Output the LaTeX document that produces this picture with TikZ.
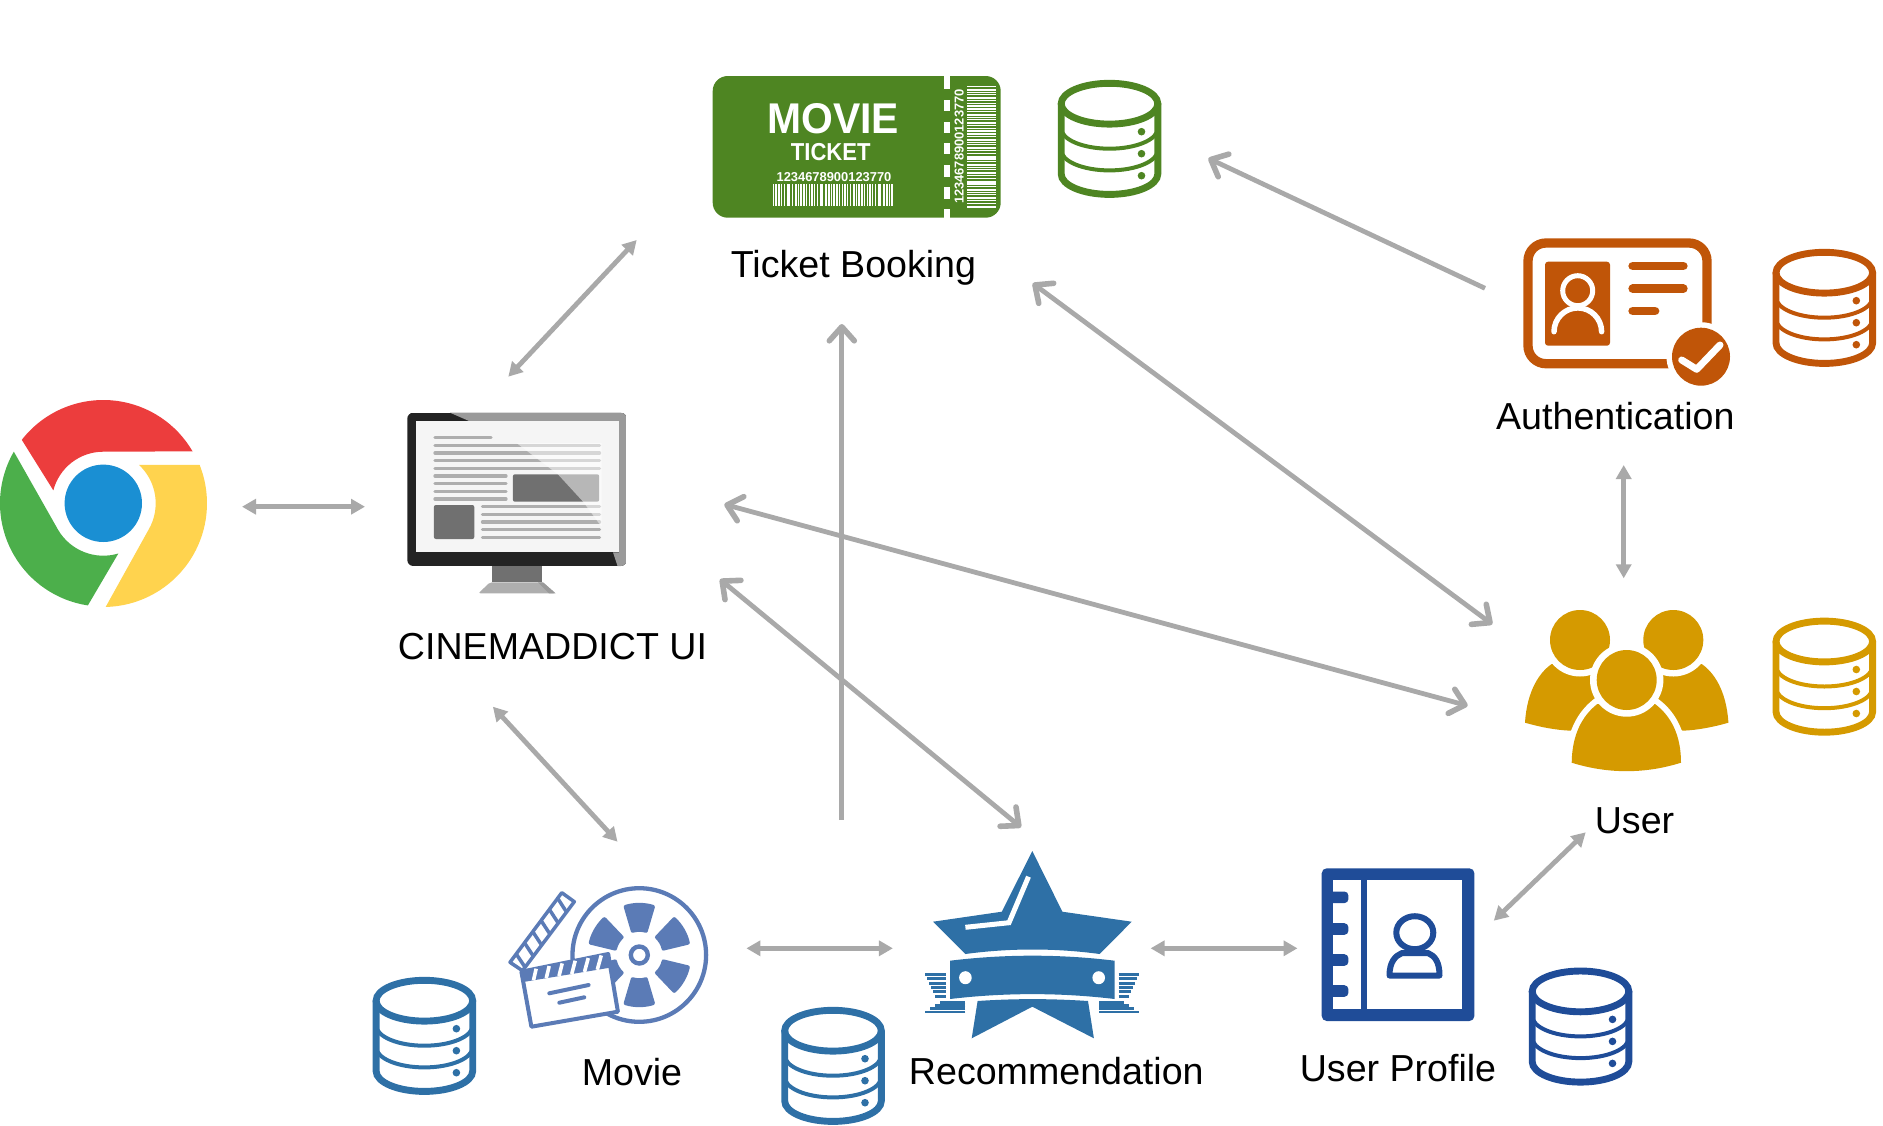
\documentclass[tikz,border=0pt]{standalone}
\usepackage{fontspec}
\setmainfont{Liberation Sans}
\usepackage{xcolor}
\usepackage{tikz}
\usetikzlibrary{arrows.meta,calc}
\definecolor{arrgray}{HTML}{A9A9A9}
\definecolor{tktgreen}{HTML}{4E8522}
\definecolor{authorange}{HTML}{C05508}
\definecolor{usergold}{HTML}{D59A00}
\definecolor{recblue}{HTML}{2E70A6}
\definecolor{profblue}{HTML}{1F4C98}
\definecolor{reelblue}{HTML}{5B7BB6}
\definecolor{crred}{HTML}{EC3D3D}
\definecolor{cryellow}{HTML}{FFD34E}
\definecolor{crgreen}{HTML}{4CAF4B}
\definecolor{crblue}{HTML}{1A8FD3}
\definecolor{monblack}{HTML}{232323}
\definecolor{mongray}{HTML}{9A9A9A}
\definecolor{mondark}{HTML}{707070}
\definecolor{monline}{HTML}{AEAEAE}
\tikzset{
  lbl/.style={font=\fontsize{37.6}{40}\selectfont,anchor=base,inner sep=0pt,text=black},
  tkt/.style={text=white,inner sep=0pt,font=\bfseries},
  ar/.style={{Triangle[length=14pt,width=15pt]}-{Triangle[length=14pt,width=15pt]},draw=arrgray,line width=4.8pt},
  aro/.style={{Straight Barb[length=14pt,width=25pt,round,line width=5.6pt]}-{Straight Barb[length=14pt,width=25pt,round,line width=5.6pt]},draw=arrgray,line width=4.8pt},
  arone/.style={-{Straight Barb[length=14pt,width=25pt,round,line width=5.6pt]},draw=arrgray,line width=4.8pt},
  scrline/.style={monline,line width=3.3pt,line cap=round},
  pics/dbstack/.style={code={
    \draw[#1,line width=6.9pt] (0,-35.3) ellipse [x radius=48.3,y radius=20.4];
    \draw[#1,line width=6.9pt] (-48.3,-35.3) -- (-48.3,35) arc [start angle=180,end angle=0,x radius=48.3,y radius=20.4] -- (48.3,-35.3);
    \draw[#1,line width=4pt] (-48.3,-10.7) arc [start angle=180,end angle=0,x radius=48.3,y radius=20.4];
    \draw[#1,line width=4pt] (-48.3,11) arc [start angle=180,end angle=0,x radius=48.3,y radius=20.4];
    \foreach \dy in {-7.3,14.7,36.7}
      \fill[#1] (32,\dy) circle [radius=3.8];
  }},
}
\begin{document}
\begin{tikzpicture}[x=1pt,y=-1pt]
  \useasboundingbox (0,0) rectangle (1883,1125);

  \begin{scope}[shift={(103.3,503.3)}]
    \fill[crred] (217.9:103.3) arc [start angle=217.9,end angle=329.8,radius=103.3] -- (270:51.6) arc [start angle=270,end angle=194.5,radius=51.6] -- cycle;
    \fill[cryellow] (313:52.4) -- (338.3:103.7) arc [start angle=338.3,end angle=448.7,radius=103.7] -- (30.3:52.4) arc [start angle=30.3,end angle=-47,radius=52.4] -- cycle;
    \fill[crgreen] (210:103.3) arc [start angle=210,end angle=98.6,radius=103.3] -- (73.3:52.4) arc [start angle=73.3,end angle=149.8,radius=52.4] -- cycle;
    \fill[crblue] (0,0) circle [radius=38.7];
  \end{scope}

  \fill[mondark] (492.2,560) rectangle (541.8,582.3);
  \fill[monline,rounded corners=2pt] (478.4,593.3) -- (490,582.3) -- (543,582.3) -- (555.5,593.3) -- cycle;
  \fill[mongray] (538,582.3) -- (543,582.3) -- (555.5,593.3) -- (549,593.3) -- cycle;
  \begin{scope}
    \clip[rounded corners=6pt] (407.3,412.7) rectangle (626.7,566);
    \fill[monblack] (407.3,412.7) rectangle (626.7,566);
    \fill[mongray] (450,412.7) -- (469,421) -- (619,421) -- (619,552.3) -- (613,552.3) -- (617.5,566) -- (626.7,566) -- (626.7,412.7) -- cycle;
  \end{scope}
  \fill[white!96!black] (415.5,421) rectangle (619,552.3);
  \draw[scrline] (435,437.7) -- (491,437.7);
  \foreach \ly in {445.7,453,460.7,468.3}
    \draw[scrline] (435,\ly) -- (599.5,\ly);
  \foreach \ly in {476,483.7,491.3,499}
    \draw[scrline] (435,\ly) -- (506,\ly);
  \foreach \ly in {506.7,514.3,522,529.7,537.3}
    \draw[scrline] (482.5,\ly) -- (599.5,\ly);
  \fill[mondark,rounded corners=2pt] (512.9,474.3) rectangle (599.2,501.7);
  \fill[mondark,rounded corners=2pt] (433.9,505) rectangle (474.3,539);
  \fill[white,opacity=.5] (516.5,443) -- (557.9,474.3) -- (583.1,501.7) -- (601.5,526.7) -- (601.5,443) -- cycle;

  \fill[tktgreen,rounded corners=15pt] (712.7,76) rectangle (1000.7,217.7);
  \foreach \dy/\dh in {76/12.7,100/11,121.7/11,143.3/11,165/11.7,187.3/12,209.3/8.4}
    \fill[white] (944,\dy) rectangle ++(6,\dh);
  \node[tkt,font=\bfseries\fontsize{43}{44}\selectfont,xscale=.95] (tktmovie) at (833.3,119) {MOVIE};
  \node[tkt,font=\bfseries\fontsize{24.5}{25}\selectfont,xscale=.9] (tktword) at (830.7,152) {TICKET};
  \node[tkt,font=\bfseries\fontsize{12.9}{14}\selectfont] (tktnum) at (834,177) {1234678900123770};
  \node[tkt,font=\bfseries\fontsize{12.9}{14}\selectfont,rotate=90] (tktnumv) at (959.3,146.5) {1234678900123770};
  \foreach \i in {0,...,43}{
    \fill[white] ({772.7+\i*2.76},184) rectangle ++({0.8+0.6*mod(\i*7,3)},21.7);
    \fill[white] (966.7,{86+\i*2.78}) rectangle ++(29.3,{0.8+0.6*mod(\i*5,3)});
  }

  \pic (dbticket) at (1109.5,139) {dbstack=tktgreen};
  \pic (dbauth) at (1824.3,308) {dbstack=authorange};
  \pic (dbuser) at (1824.3,676.8) {dbstack=usergold};
  \pic (dbmovie) at (424.4,1036) {dbstack=recblue};
  \pic (dbrec) at (833,1066) {dbstack=recblue};
  \pic (dbprof) at (1580.5,1026.7) {dbstack=profblue};

  \draw[authorange,line width=9.3pt,rounded corners=18pt] (1528,243) rectangle (1707,363.7);
  \fill[white] (1701,356.7) circle [radius=34.5];
  \fill[authorange] (1701,356.7) circle [radius=29];
  \draw[white,line width=7pt,line cap=round,line join=round] (1681.7,360) -- (1696.7,369.3) -- (1720,345);
  \fill[authorange,rounded corners=3pt] (1545,261.7) rectangle (1610,345.7);
  \draw[white,line width=5pt] (1577.7,290.7) circle [radius=15];
  \draw[white,line width=5.5pt,line cap=round] (1554,331.7) arc [start angle=180,end angle=360,radius=23.8];
  \draw[authorange,line width=8.7pt,line cap=round] (1632.7,266) -- (1683.3,266);
  \draw[authorange,line width=8.7pt,line cap=round] (1632.7,288.7) -- (1683.3,288.7);
  \draw[authorange,line width=8.7pt,line cap=round] (1632.7,311) -- (1655,311);

  \fill[usergold] (1525,722.7) .. controls (1527,690) and (1540,672) .. (1551.7,664) -- (1600,664) -- (1620,700) -- (1570.7,730.7) .. controls (1555,730) and (1540,727) .. cycle;
  \fill[usergold] (1728.4,722.7) .. controls (1726.4,690) and (1713.4,672) .. (1701.7,664) -- (1653.4,664) -- (1633.4,700) -- (1682.7,730.7) .. controls (1698.4,730) and (1713.4,727) .. cycle;
  \foreach \hx in {1580,1673.3}{
    \fill[white] (\hx,640) circle [radius=36.5];
    \fill[usergold] (\hx,640) circle [radius=30];
  }
  \path[fill=usergold,preaction={draw=white,line width=12pt}] (1571.7,762.7) .. controls (1572,735) and (1582,716) .. (1597.3,704) -- (1655,704) .. controls (1671,716) and (1681,735) .. (1681,762.7) .. controls (1645,774) and (1608,774) .. cycle;
  \fill[white] (1626.7,680) circle [radius=36.7];
  \fill[usergold] (1626.7,680) circle [radius=30];

  \draw[reelblue,line width=4.3pt] (639.3,955) circle [radius=66.8];
  \draw[reelblue,line width=4.4pt] (639.3,955) circle [radius=8.5];
  \begin{scope}[shift={(639.3,955)}]
    \foreach \a in {270,330,30,90,150,210}
      \fill[reelblue,rounded corners=2pt] ({\a-18}:52) arc [start angle={\a-18},end angle={\a+18},radius=52] -- ({\a+20}:23) arc [start angle={\a+20},end angle={\a-20},radius=23] -- cycle;
  \end{scope}
  \coordinate (armA) at (510,962.3);
  \coordinate (armB) at (561.8,892.7);
  \coordinate (armC) at (574.3,901.7);
  \coordinate (armD) at (522.5,970.7);
  \draw[reelblue,fill=white,line width=3.5pt,line join=round] (armA) -- (armB) -- (armC) -- (armD) -- cycle;
  \foreach \t in {.12,.28,.44,.6,.76,.92}
    \draw[reelblue,line width=3.5pt] ($(armA)!\t!(armB)$) -- ($(armD)!\t-.07!(armC)$);
  \coordinate (brdA) at (521.4,971.7);
  \coordinate (brdB) at (608.2,954);
  \coordinate (brdC) at (617.9,1011.7);
  \coordinate (brdD) at (531.4,1026.7);
  \coordinate (bndL) at (525,981.7);
  \coordinate (bndR) at (610,967.7);
  \draw[reelblue,fill=white,line width=4pt,line join=round] (brdA) -- (brdB) -- (brdC) -- (brdD) -- cycle;
  \fill[reelblue] (brdA) -- (brdB) -- (bndR) -- (bndL) -- cycle;
  \foreach \t in {.1,.25,.4,.55,.7,.85}
    \draw[white,line width=3.6pt] ($(bndL)!\t!(bndR)$) -- ($(brdA)!\t+.07!(brdB)$);
  \draw[reelblue,line width=4pt,line cap=round] (549.3,993.3) -- (588.6,985);
  \draw[reelblue,line width=4pt,line cap=round] (559.3,1002.7) -- (584.3,997.3);

  \fill[recblue] (1032.3,851) -- (1062.4,911.7) -- (1131.7,921.7) -- (1099.7,954) .. controls (1055,948) and (1010,948) .. (965.4,954) -- (933,921.7) -- (1001.8,911.7) -- cycle;
  \draw[white,line width=5pt] (1028.5,876.7) -- (1009,922.7) -- (965.4,927.3);
  \fill[recblue] (950,960.7) .. controls (1005,954) and (1060,954) .. (1114.7,960.7) -- (1114.7,999) .. controls (1060,992.5) and (1005,992.5) .. (950,999) -- cycle;
  \fill[white] (965.4,977.7) ellipse [x radius=6.3,y radius=6.5];
  \fill[white] (1098.7,977.7) ellipse [x radius=6.3,y radius=6.5];
  \fill[recblue] (977.6,1001) .. controls (1014,998.5) and (1051,998.5) .. (1088,1001) -- (1093.9,1038.3) -- (1032.3,1006.7) -- (971.7,1038.3) -- cycle;
  \begin{scope}[shift={(1032.3,0)}]
    \foreach \s in {-1,1}{
      \foreach \ly/\lx in {974.3/107,978.7/105,983/103,987.3/101,991.7/99,996/97}
        \draw[recblue,line width=3pt] ({\s*86.3},\ly) -- ({\s*\lx},\ly);
      \foreach \ly/\lx in {1002.3/92,1005.5/97,1008.7/102,1011.9/107}
        \draw[recblue,line width=2.5pt] ({\s*67},\ly) -- ({\s*\lx},\ly);
    }
  \end{scope}

  \fill[profblue,rounded corners=5pt] (1321.7,868.3) rectangle (1474.4,1021);
  \fill[white] (1366.8,880) rectangle (1462.3,1009);
  \fill[white] (1332.9,880) rectangle (1360.5,1009);
  \foreach \ry in {897.3,929,960,991}
    \fill[profblue,rounded corners=4pt] (1325,{\ry-5.8}) rectangle (1348.4,{\ry+5.8});
  \draw[profblue,line width=6pt,line join=round] (1389.5,975.5) -- (1439.5,975.5) .. controls (1439.5,962) and (1435,956) .. (1428,953) -- (1402,953) .. controls (1395,956) and (1389.5,962) .. cycle;
  \draw[profblue,fill=white,line width=6pt] (1414.8,932.7) ellipse [x radius=18.5,y radius=16.5];

  \node[lbl] (tktlbl) at (853.5,277.7) {Ticket Booking};
  \node[lbl] (uilbl) at (552.5,659) {CINEMADDICT UI};
  \node[lbl] (authlbl) at (1615.3,429.3) {Authentication};
  \node[lbl] (userlbl) at (1634.5,833) {User};
  \node[lbl] (movielbl) at (632,1085) {Movie};
  \node[lbl] (reclbl) at (1056.3,1084.3) {Recommendation};
  \node[lbl] (proflbl) at (1398,1081.7) {User Profile};

  \coordinate (chromeE) at (242,506.7);
  \coordinate (uiW) at (365,506.7);
  \coordinate (uiNE) at (508.3,376.7);
  \coordinate (tktSW) at (636.7,240);
  \coordinate (uiS) at (492.9,706.7);
  \coordinate (movieN) at (617.5,841.7);
  \coordinate (recTail) at (841.8,820);
  \coordinate (tktS) at (841.8,324);
  \coordinate (uiSE) at (720,579.3);
  \coordinate (recN) at (1021,827.3);
  \coordinate (uiE) at (724.3,504.3);
  \coordinate (userW) at (1467.7,705.7);
  \coordinate (tktSE) at (1032.7,283.3);
  \coordinate (userNW) at (1492.3,624.3);
  \coordinate (authW) at (1485,288.3);
  \coordinate (dbtktE) at (1208.3,158.3);
  \coordinate (authS) at (1623.7,465);
  \coordinate (userN) at (1623.7,578.3);
  \coordinate (movieE) at (746.4,948.3);
  \coordinate (recW) at (892.9,948.3);
  \coordinate (recE) at (1150.6,948.3);
  \coordinate (profW) at (1297.5,948.3);
  \coordinate (profNE) at (1493.8,920.7);
  \coordinate (userSW) at (1585.7,832.3);

  \draw[ar] (chromeE) -- (uiW);
  \draw[ar] (uiNE) -- (tktSW);
  \draw[ar] (uiS) -- (movieN);
  \draw[arone] (recTail) -- (tktS);
  \draw[aro] (uiSE) -- (recN);
  \draw[aro] (uiE) -- (userW);
  \draw[aro] (tktSE) -- (userNW);
  \draw[arone] (authW) -- (dbtktE);
  \draw[ar] (authS) -- (userN);
  \draw[ar] (movieE) -- (recW);
  \draw[ar] (recE) -- (profW);
  \draw[ar] (profNE) -- (userSW);
\end{tikzpicture}
\end{document}
